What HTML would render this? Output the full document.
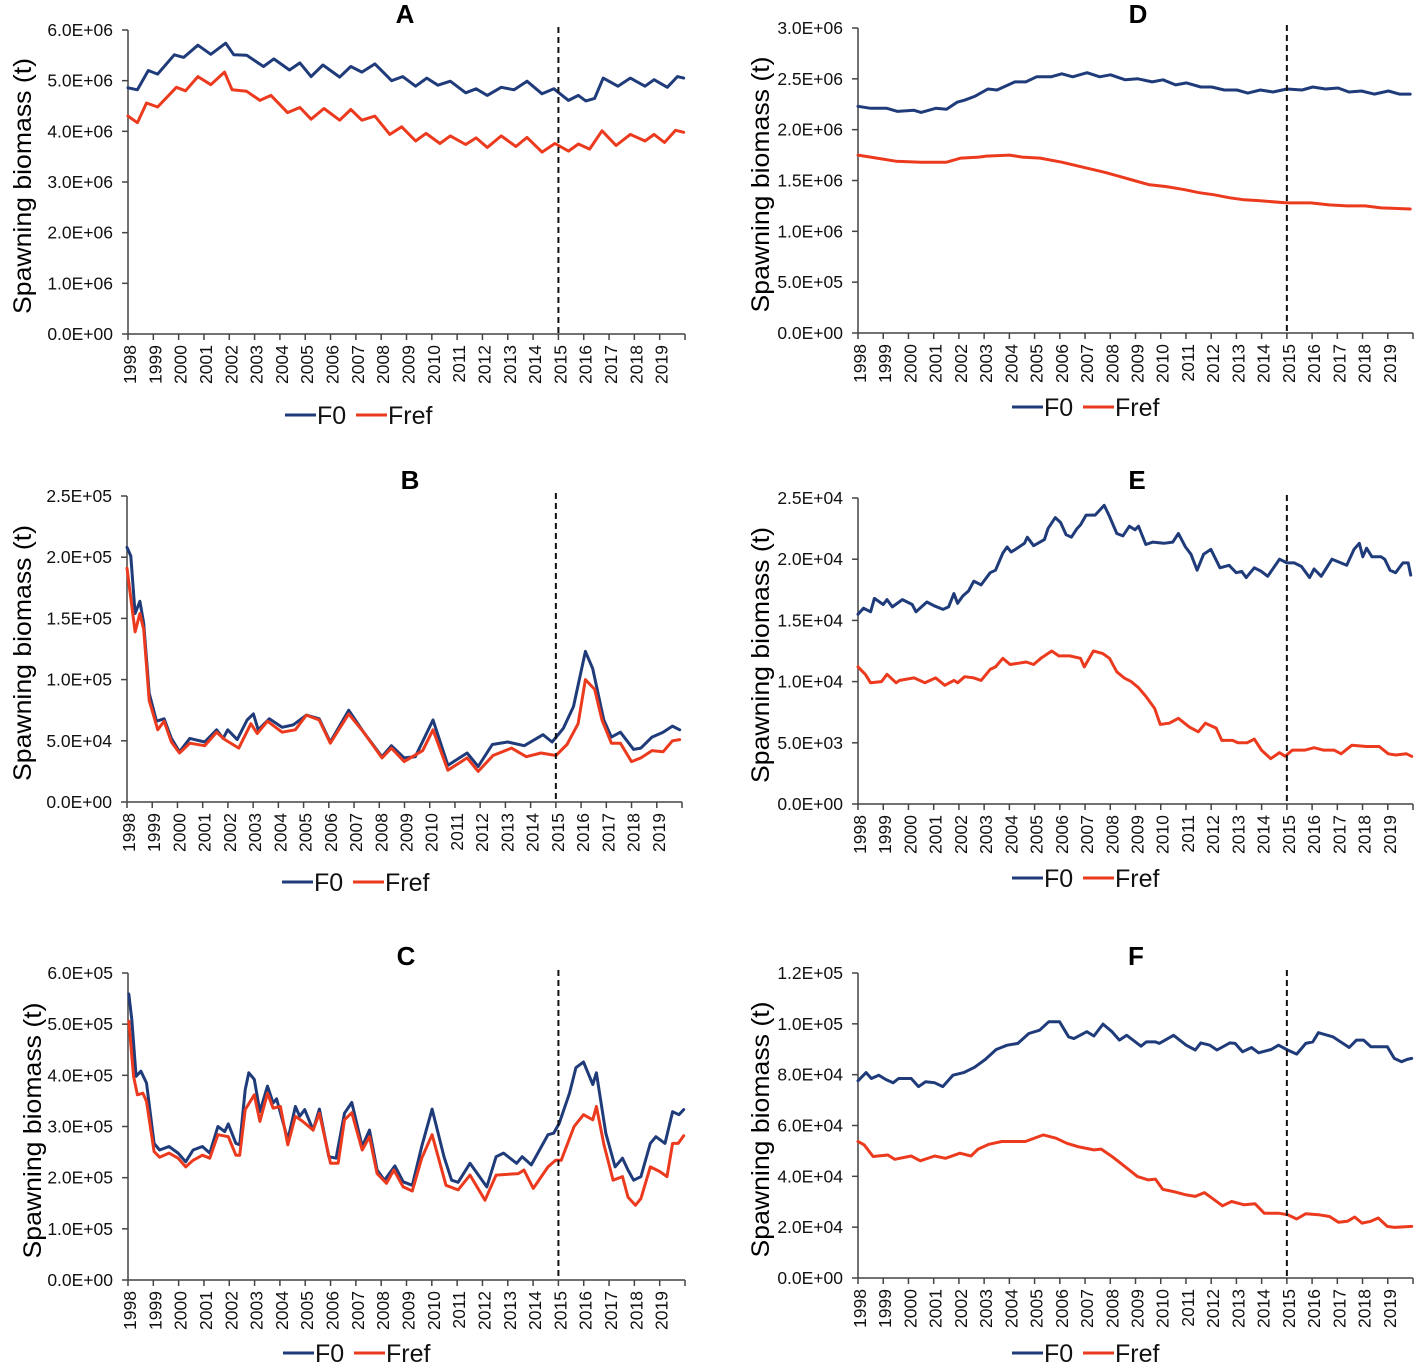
<!DOCTYPE html>
<html><head><meta charset="utf-8"><title>Spawning biomass panels</title>
<style>
html,body{margin:0;padding:0;background:#fff;}
svg{display:block;font-family:"Liberation Sans",Arial,sans-serif;}
</style></head>
<body>
<svg id="fig" width="1417" height="1366" viewBox="0 0 1417 1366" xmlns="http://www.w3.org/2000/svg"></svg>
<script>
// ---------- DATA (years since 1998, values in panel units) ----------
const yearLabels = ["1998","1999","2000","2001","2002","2003","2004","2005","2006","2007","2008","2009","2010","2011","2012","2013","2014","2015","2016","2017","2018","2019"];
const seriesNames = ["F0","Fref"];

// Panel A (units 1e6 t)
const tA_F0 = [0,0.37,0.8,1.17,1.83,2.2,2.76,3.27,3.86,4.18,4.69,5.35,5.76,6.38,6.79,7.23,7.7,8.36,8.8,9.24,9.75,10.41,10.85,11.36,11.8,12.24,12.73,13.34,13.75,14.19,14.74,15.25,15.76,16.35,16.82,17.4,17.79,18.08,18.43,18.77,19.35,19.84,20.42,20.78,21.3,21.7,21.95];
const vA_F0 = [4.86,4.82,5.20,5.13,5.51,5.46,5.70,5.52,5.74,5.51,5.50,5.28,5.43,5.21,5.35,5.08,5.31,5.07,5.28,5.17,5.33,5.00,5.08,4.89,5.05,4.91,4.99,4.76,4.84,4.71,4.87,4.82,4.99,4.74,4.84,4.61,4.71,4.60,4.65,5.05,4.89,5.05,4.89,5.02,4.87,5.08,5.05];
const tA_Fref = [0,0.37,0.73,1.17,1.91,2.27,2.76,3.27,3.81,4.11,4.69,5.21,5.65,6.3,6.79,7.23,7.74,8.36,8.8,9.24,9.75,10.34,10.81,11.36,11.77,12.32,12.73,13.34,13.75,14.19,14.74,15.32,15.76,16.35,16.86,17.4,17.79,18.23,18.72,19.28,19.84,20.42,20.78,21.19,21.63,21.95];
const vA_Fref = [4.30,4.17,4.56,4.48,4.87,4.80,5.08,4.92,5.17,4.82,4.79,4.61,4.71,4.37,4.47,4.24,4.45,4.22,4.43,4.22,4.30,3.94,4.09,3.81,3.96,3.76,3.91,3.74,3.87,3.68,3.91,3.70,3.88,3.59,3.76,3.61,3.75,3.65,4.01,3.72,3.94,3.81,3.94,3.78,4.02,3.98];
const ticksA = ["0.0E+00","1.0E+06","2.0E+06","3.0E+06","4.0E+06","5.0E+06","6.0E+06"];

// Panel B (units 1e4 t)
const tB_F0 = [0,0.15,0.32,0.51,0.66,0.88,1.17,1.47,1.76,2.08,2.49,3.08,3.55,3.81,3.99,4.37,4.76,5.01,5.2,5.64,6.15,6.59,7.11,7.62,8.06,8.79,9.38,10.11,10.48,10.99,11.43,12.13,12.72,13.48,13.92,14.48,15.09,15.75,16.49,16.85,17.29,17.7,18.17,18.46,18.9,19.2,19.56,20.08,20.37,20.81,21.25,21.62,21.91];
const vB_F0 = [20.8,20.1,15.4,16.4,14.6,8.9,6.6,6.8,5.2,4.1,5.2,4.9,5.9,5.2,5.9,5.1,6.7,7.2,5.9,6.8,6.1,6.3,7.1,6.8,4.9,7.5,5.7,3.7,4.6,3.6,3.7,6.7,3.0,4.0,2.9,4.7,4.9,4.6,5.5,4.9,6.0,7.8,12.3,10.9,6.7,5.3,5.7,4.3,4.4,5.3,5.7,6.2,5.9];
const tB_Fref = [0,0.32,0.51,0.66,0.88,1.22,1.47,1.76,2.08,2.49,3.08,3.55,3.88,4.43,4.91,5.16,5.57,6.15,6.67,7.11,7.62,8.06,8.79,9.38,10.11,10.48,10.99,11.72,12.13,12.72,13.48,13.92,14.51,15.24,15.83,16.41,17.0,17.44,17.88,18.17,18.54,18.83,19.2,19.56,20.0,20.37,20.81,21.25,21.62,21.91];
const vB_Fref = [19.1,13.9,15.4,14.1,8.3,5.9,6.6,4.9,4.0,4.8,4.6,5.7,5.1,4.4,6.4,5.6,6.6,5.7,5.9,7.1,6.7,4.8,7.2,5.7,3.6,4.4,3.3,4.2,5.9,2.6,3.6,2.5,3.8,4.4,3.7,4.0,3.8,4.7,6.4,10.0,9.2,6.7,4.8,4.8,3.3,3.6,4.2,4.1,5.0,5.1];
const ticksB = ["0.0E+00","5.0E+04","1.0E+05","1.5E+05","2.0E+05","2.5E+05"];

// Panel C (units 1e5 t)
const tC_F0 = [0.03,0.15,0.32,0.51,0.73,1.03,1.25,1.62,1.98,2.28,2.57,2.94,3.23,3.55,3.82,3.96,4.26,4.41,4.63,4.77,4.99,5.21,5.51,5.73,5.87,6.31,6.61,6.78,6.98,7.31,7.56,7.93,8.22,8.55,8.84,9.25,9.54,9.84,10.13,10.54,10.87,11.23,11.6,12.01,12.48,12.78,13.04,13.51,14.17,14.54,14.83,15.35,15.57,15.93,16.59,16.81,17.03,17.44,17.69,17.99,18.36,18.5,18.87,19.24,19.53,19.75,19.97,20.26,20.63,20.85,21.21,21.51,21.76,21.95];
const vC_F0 = [5.59,5.09,3.98,4.08,3.85,2.67,2.54,2.61,2.48,2.31,2.54,2.61,2.48,3.00,2.90,3.05,2.67,2.64,3.72,4.05,3.92,3.29,3.79,3.46,3.54,2.74,3.39,3.20,3.33,2.93,3.34,2.41,2.38,3.26,3.47,2.61,2.93,2.15,1.95,2.23,1.92,1.85,2.61,3.34,2.41,1.95,1.91,2.28,1.82,2.41,2.48,2.28,2.41,2.25,2.84,2.87,3.06,3.65,4.15,4.26,3.82,4.05,2.87,2.21,2.38,2.15,1.95,2.02,2.67,2.80,2.67,3.29,3.23,3.33];
const tC_Fref = [0.03,0.22,0.37,0.59,0.73,1.03,1.25,1.62,1.98,2.28,2.57,2.94,3.23,3.55,3.96,4.26,4.41,4.63,4.99,5.21,5.51,5.73,6.02,6.31,6.61,6.9,7.31,7.56,8.0,8.3,8.55,8.84,9.25,9.54,9.84,10.21,10.5,10.87,11.23,11.6,12.01,12.56,13.04,13.51,14.1,14.54,15.42,15.64,16.01,16.59,16.89,17.11,17.62,17.99,18.36,18.5,18.8,19.16,19.53,19.75,20.04,20.26,20.63,21.0,21.29,21.51,21.73,21.95];
const vC_Fref = [5.06,3.98,3.62,3.65,3.49,2.51,2.40,2.48,2.38,2.21,2.34,2.44,2.38,2.84,2.80,2.44,2.44,3.33,3.62,3.10,3.65,3.36,3.39,2.64,3.20,3.10,2.93,3.26,2.28,2.28,3.13,3.27,2.54,2.80,2.08,1.89,2.15,1.82,1.74,2.38,2.84,1.85,1.76,2.05,1.56,2.05,2.08,2.15,1.79,2.21,2.34,2.34,3.00,3.23,3.13,3.39,2.64,1.95,2.02,1.62,1.46,1.59,2.21,2.12,2.02,2.67,2.67,2.82];
const ticksC = ["0.0E+00","1.0E+05","2.0E+05","3.0E+05","4.0E+05","5.0E+05","6.0E+05"];

// Panel D (units 1e6 t)
const tD_F0 = [0,0.5,1.14,1.57,2.22,2.5,3.08,3.51,3.93,4.22,4.65,5.15,5.51,6.22,6.65,7.08,7.65,8.08,8.51,9.08,9.58,10.01,10.59,11.09,11.66,12.09,12.59,13.02,13.59,14.02,14.52,15.02,15.45,15.95,16.45,17.0,17.6,18.03,18.53,19.03,19.46,19.96,20.46,21.03,21.46,21.89];
const vD_F0 = [2.23,2.21,2.21,2.18,2.19,2.17,2.21,2.20,2.27,2.29,2.33,2.40,2.39,2.47,2.47,2.52,2.52,2.55,2.52,2.56,2.52,2.54,2.49,2.50,2.47,2.49,2.44,2.46,2.42,2.42,2.39,2.39,2.36,2.39,2.37,2.40,2.39,2.42,2.40,2.41,2.37,2.38,2.35,2.38,2.35,2.35];
const tD_Fref = [0,0.5,1.5,2.5,3.51,4.08,4.79,5.08,6.01,6.51,7.22,8.08,8.94,9.8,10.37,10.94,11.52,12.23,12.95,13.52,14.09,14.74,15.31,15.95,17.0,17.95,18.67,19.38,20.1,20.74,21.89];
const vD_Fref = [1.75,1.73,1.69,1.68,1.68,1.72,1.73,1.74,1.75,1.73,1.72,1.68,1.63,1.58,1.54,1.50,1.46,1.44,1.41,1.38,1.36,1.33,1.31,1.30,1.28,1.28,1.26,1.25,1.25,1.23,1.22];
const ticksD = ["0.0E+00","5.0E+05","1.0E+06","1.5E+06","2.0E+06","2.5E+06","3.0E+06"];

// Panel E (units 1e3 t)
const tE_F0 = [0,0.22,0.5,0.65,1.0,1.15,1.36,1.76,2.15,2.3,2.73,3.01,3.37,3.59,3.8,3.95,4.16,4.38,4.59,4.88,5.24,5.45,5.74,5.91,6.07,6.24,6.6,6.71,6.96,7.39,7.53,7.82,8.03,8.25,8.46,8.68,8.82,9.04,9.4,9.76,9.97,10.26,10.5,10.76,10.98,11.12,11.41,11.69,12.12,12.48,12.7,12.98,13.2,13.44,13.7,13.99,14.35,14.71,14.99,15.21,15.39,15.71,15.99,16.24,16.71,17.0,17.29,17.58,17.9,18.08,18.36,18.79,19.37,19.66,19.87,20.01,20.16,20.37,20.73,20.88,21.09,21.31,21.6,21.81,21.91];
const vE_F0 = [15.5,16.0,15.7,16.8,16.3,16.7,16.1,16.7,16.3,15.7,16.5,16.2,15.9,16.1,17.2,16.4,17.0,17.4,18.2,17.9,18.9,19.1,20.5,21.0,20.6,20.8,21.3,21.8,21.1,21.6,22.5,23.4,23.0,22.0,21.8,22.5,22.8,23.6,23.6,24.4,23.5,22.1,21.9,22.7,22.4,22.7,21.2,21.4,21.3,21.4,22.1,21.0,20.4,19.1,20.4,20.8,19.3,19.5,18.9,19.0,18.5,19.3,19.0,18.6,20.0,19.7,19.7,19.4,18.5,19.2,18.6,20.0,19.5,20.8,21.3,20.2,20.9,20.2,20.2,20.0,19.1,18.9,19.7,19.7,18.7];
const tE_Fref = [0,0.29,0.5,0.93,1.15,1.51,1.65,2.22,2.65,3.08,3.44,3.8,3.95,4.23,4.59,4.88,5.24,5.45,5.74,6.03,6.67,6.96,7.25,7.68,7.96,8.39,8.82,8.97,9.33,9.69,9.97,10.26,10.55,10.83,11.12,11.41,11.76,11.98,12.34,12.7,13.13,13.49,13.77,14.2,14.42,14.85,15.06,15.42,15.71,15.99,16.36,16.71,16.93,17.22,17.72,18.08,18.44,18.87,19.15,19.58,20.16,20.66,21.02,21.31,21.74,21.95];
const vE_Fref = [11.2,10.6,9.9,10.0,10.6,9.9,10.1,10.3,9.9,10.3,9.7,10.1,9.9,10.4,10.3,10.1,11.0,11.2,11.9,11.4,11.6,11.4,11.9,12.5,12.1,12.1,11.9,11.2,12.5,12.3,11.9,10.8,10.3,10.0,9.5,8.8,7.8,6.5,6.6,7.0,6.3,5.9,6.6,6.2,5.2,5.2,5.0,5.0,5.3,4.4,3.7,4.2,3.9,4.4,4.4,4.6,4.4,4.4,4.1,4.8,4.7,4.7,4.1,4.0,4.1,3.9];
const ticksE = ["0.0E+00","5.0E+03","1.0E+04","1.5E+04","2.0E+04","2.5E+04"];

// Panel F (units 1e4 t)
const tF_F0 = [0,0.32,0.53,0.82,1.1,1.39,1.61,2.11,2.4,2.68,3.04,3.36,3.76,4.19,4.62,5.05,5.48,5.91,6.34,6.77,7.2,7.56,7.99,8.35,8.56,9.07,9.35,9.71,10.07,10.36,10.65,11.22,11.43,11.79,11.94,12.51,13.01,13.37,13.59,13.95,14.23,14.74,14.95,15.24,15.6,15.88,16.38,16.67,17.03,17.39,17.75,18.03,18.25,18.82,19.47,19.76,20.04,20.33,20.98,21.26,21.55,21.77,21.95];
const vF_F0 = [7.76,8.08,7.85,7.98,7.81,7.68,7.85,7.85,7.53,7.72,7.68,7.53,7.98,8.08,8.29,8.60,8.99,9.16,9.23,9.62,9.75,10.08,10.08,9.49,9.42,9.69,9.52,9.99,9.69,9.36,9.55,9.12,9.29,9.29,9.23,9.55,9.16,8.97,9.25,9.16,8.97,9.25,9.23,8.90,9.07,8.86,8.99,9.16,8.97,8.81,9.23,9.29,9.65,9.49,9.07,9.36,9.36,9.10,9.10,8.64,8.51,8.60,8.64];
const tF_Fref = [0,0.24,0.6,1.18,1.46,2.11,2.47,3.04,3.47,4.04,4.48,4.76,5.19,5.7,6.34,6.63,7.35,7.85,8.28,8.71,9.35,9.64,10.07,10.5,11.08,11.51,11.79,12.08,12.51,13.01,13.37,13.73,14.09,14.45,14.81,15.31,15.74,16.1,16.67,17.03,17.39,17.75,18.25,18.69,19.05,19.4,19.69,19.98,20.33,20.62,20.98,21.26,21.95];
const vF_Fref = [5.37,5.24,4.78,4.84,4.67,4.80,4.61,4.80,4.71,4.91,4.80,5.07,5.26,5.37,5.37,5.37,5.63,5.50,5.30,5.17,5.04,5.07,4.78,4.45,3.99,3.86,3.89,3.49,3.40,3.27,3.21,3.36,3.10,2.84,3.01,2.88,2.92,2.55,2.55,2.49,2.32,2.53,2.49,2.42,2.19,2.23,2.40,2.16,2.23,2.36,2.03,1.99,2.03];
const ticksF = ["0.0E+00","2.0E+04","4.0E+04","6.0E+04","8.0E+04","1.0E+05","1.2E+05"];

const projectionStart = 17; // 2015

// ---------- LAYOUT ----------
const NS = "http://www.w3.org/2000/svg";
const svg = document.getElementById("fig");
const COL_F0 = "#1f3b7a", COL_FREF = "#ec3a1e";

const panels = [
  {id:"a", title:"A", x0:128, x1:685, yTop:30,  yBot:334,  yMax:6,   step:1,   ticks:ticksA, t0:tA_F0, v0:vA_F0, t1:tA_Fref, v1:vA_Fref, titleX:405, titleY:23, ytX:22, legX:285, legY:415},
  {id:"b", title:"B", x0:127, x1:682, yTop:496, yBot:802,  yMax:25,  step:5,   ticks:ticksB, t0:tB_F0, v0:vB_F0, t1:tB_Fref, v1:vB_Fref, titleX:410, titleY:489, ytX:22, legX:282, legY:882},
  {id:"c", title:"C", x0:128, x1:685, yTop:973, yBot:1280, yMax:6,   step:1,   ticks:ticksC, t0:tC_F0, v0:vC_F0, t1:tC_Fref, v1:vC_Fref, titleX:406, titleY:965, ytX:32, legX:283, legY:1353},
  {id:"d", title:"D", x0:858, x1:1413,yTop:28,  yBot:333,  yMax:3,   step:0.5, ticks:ticksD, t0:tD_F0, v0:vD_F0, t1:tD_Fref, v1:vD_Fref, titleX:1138, titleY:23, ytX:760, legX:1012, legY:407},
  {id:"e", title:"E", x0:858, x1:1413,yTop:498, yBot:804,  yMax:25,  step:5,   ticks:ticksE, t0:tE_F0, v0:vE_F0, t1:tE_Fref, v1:vE_Fref, titleX:1137, titleY:489, ytX:760, legX:1012, legY:878},
  {id:"f", title:"F", x0:858, x1:1413,yTop:973, yBot:1278, yMax:12,  step:2,   ticks:ticksF, t0:tF_F0, v0:vF_F0, t1:tF_Fref, v1:vF_Fref, titleX:1136, titleY:965, ytX:760, legX:1012, legY:1353}
];

function mk(tag, attrs, parent){
  const e = document.createElementNS(NS, tag);
  for (const k in attrs) e.setAttribute(k, attrs[k]);
  (parent||svg).appendChild(e);
  return e;
}

panels.forEach(p => {
  const g = mk("g", {});
  
  
  const yrW = (p.x1 - p.x0) / 22;
  const xS = t => p.x0 + t * yrW;
  const yS = v => p.yBot - (v / p.yMax) * (p.yBot - p.yTop);

  // title
  const tt = mk("text", {x:p.titleX, y:p.titleY, "text-anchor":"middle", "font-size":"26", "font-weight":"bold", fill:"#000"}, g);
  tt.textContent = p.title;
  
  

  // y axis title
  const cy = (p.yTop + p.yBot) / 2 + 4;
  const yt = mk("text", {x:0, y:0, transform:`translate(${p.ytX+9},${cy}) rotate(-90)`, "text-anchor":"middle", "font-size":"25", fill:"#000", textLength:"256", lengthAdjust:"spacingAndGlyphs"}, g);
  yt.textContent = "Spawning biomass (t)";
  
  

  // y axis
  const ya = mk("line", {x1:p.x0, x2:p.x0, y1:p.yTop, y2:p.yBot, stroke:"#444", "stroke-width":"1.5"}, g);
  
  
  p.ticks.forEach((lab, i) => {
    const y = yS(i * p.step);
    const tk = mk("line", {x1:p.x0-6, x2:p.x0, y1:y, y2:y, stroke:"#444", "stroke-width":"1.5"}, g);
    
    
    const tl = mk("text", {x:p.x0-15, y:y+6, "text-anchor":"end", "font-size":"17.5", fill:"#111"}, g);
    tl.textContent = lab;
    
    
  });

  // x axis
  const xa = mk("line", {x1:p.x0, x2:p.x1, y1:p.yBot, y2:p.yBot, stroke:"#444", "stroke-width":"1.5"}, g);
  
  
  for (let i = 0; i <= 22; i++) {
    const x = xS(i);
    const tk = mk("line", {x1:x, x2:x, y1:p.yBot, y2:p.yBot+6, stroke:"#444", "stroke-width":"1.5"}, g);
    
    
  }
  yearLabels.forEach((lab, i) => {
    const x = xS(i) + 8;
    const xl = mk("text", {x:0, y:0, transform:`translate(${x},${p.yBot+11}) rotate(-90)`, "text-anchor":"end", "font-size":"17.5", fill:"#111"}, g);
    xl.textContent = lab;
    
    
  });

  // series
  const drawSeries = (ts, vs, col, name) => {
    const n = Math.min(ts.length, vs.length);
    let d = "";
    for (let i = 0; i < n; i++) d += (i ? "L" : "M") + xS(ts[i]).toFixed(1) + "," + yS(vs[i]).toFixed(1);
    const pl = mk("path", {d:d, fill:"none", stroke:col, "stroke-width":"3", "stroke-linejoin":"round", "stroke-linecap":"round"}, g);
    
    
  };
  drawSeries(p.t0, p.v0, COL_F0, "f0");
  drawSeries(p.t1, p.v1, COL_FREF, "fref");

  // projection divider
  const dx = xS(projectionStart);
  const dl = mk("line", {x1:dx, x2:dx, y1:p.yTop-3, y2:p.yBot, stroke:"#111", "stroke-width":"2", "stroke-dasharray":"6,4"}, g);
  
  

  // legend
  const lg = mk("g", {}, g);
  
  
  const l1 = mk("line", {x1:p.legX, x2:p.legX+31, y1:p.legY, y2:p.legY, stroke:COL_F0, "stroke-width":"3"}, lg);
  
  
  const t1 = mk("text", {x:p.legX+32, y:p.legY+9, "font-size":"25", fill:"#111"}, lg);
  t1.textContent = seriesNames[0];
  
  
  const l2 = mk("line", {x1:p.legX+71, x2:p.legX+102, y1:p.legY, y2:p.legY, stroke:COL_FREF, "stroke-width":"3"}, lg);
  
  
  const t2 = mk("text", {x:p.legX+103, y:p.legY+9, "font-size":"25", fill:"#111"}, lg);
  t2.textContent = seriesNames[1];
  
  
});
</script>
</body></html>
